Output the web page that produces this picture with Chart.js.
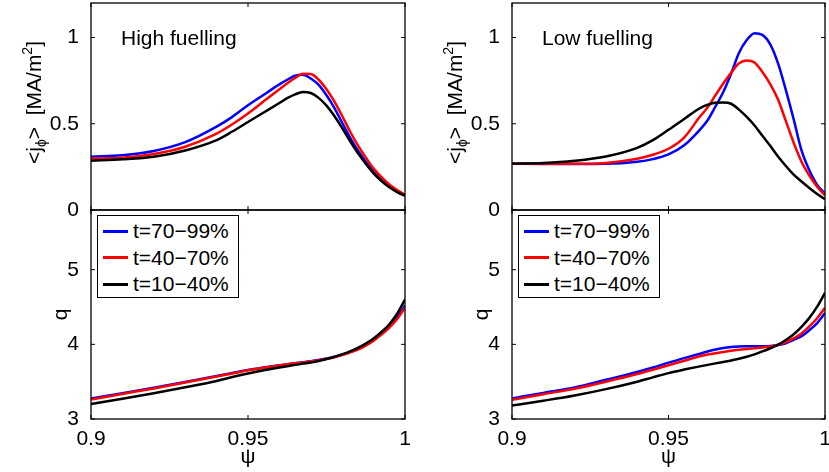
<!DOCTYPE html>
<html>
<head>
<meta charset="utf-8">
<script src="https://cdn.jsdelivr.net/npm/chart.js@4.4.1/dist/chart.umd.min.js"></script>
<style>
  body { margin: 0; background: #fff; }
  #fig { position: relative; width: 829px; height: 472px; overflow: hidden; font-family: 'Liberation Sans', Arial, sans-serif; }
  #fig canvas { position: absolute; left: 0; top: 0; }
  .panel-label { position: absolute; font-size: 21px; line-height: 25px; color: #000; white-space: nowrap; }
  .legend { position: absolute; width: 142px; height: 83px; border: 1px solid #000; background: #fff; padding-top: 2px; box-sizing: border-box; }
  .legend .row { height: 26.5px; display: flex; align-items: center; font-size: 21px; white-space: nowrap; }
  .legend .swatch { width: 25px; height: 3px; margin: 0 5px 0 5px; }
</style>
</head>
<body>
<div id="fig">
  <canvas id="jHigh" width="829" height="472"></canvas>
  <canvas id="qHigh" width="829" height="472"></canvas>
  <canvas id="jLow" width="829" height="472"></canvas>
  <canvas id="qLow" width="829" height="472"></canvas>
  <div class="panel-label" style="left:121px; top:25px;">High fuelling</div>
  <div class="panel-label" style="left:542px; top:25px;">Low fuelling</div>
  <div class="legend" id="legendHigh" style="left:97px; top:215px;"></div>
  <div class="legend" id="legendLow" style="left:518px; top:215px;"></div>
</div>
<script>
// normalised flux coordinate
const psi = [0.9, 0.91, 0.92, 0.93, 0.94, 0.945, 0.95, 0.955, 0.96, 0.9625, 0.965, 0.9675,
  0.97, 0.9725, 0.975, 0.9775, 0.98, 0.9825, 0.985, 0.9875, 0.99, 0.9925, 0.995, 0.9975, 1.0];

// <j_phi> [MA/m^2], high fuelling
const jHigh70 = [0.309, 0.318, 0.342, 0.393, 0.483, 0.54, 0.607, 0.668, 0.728, 0.755, 0.778, 0.784,
  0.762, 0.725, 0.665, 0.592, 0.505, 0.42, 0.345, 0.28, 0.225, 0.178, 0.14, 0.11, 0.088];
const jHigh40 = [0.298, 0.303, 0.325, 0.367, 0.443, 0.497, 0.56, 0.63, 0.70, 0.735, 0.765, 0.79,
  0.788, 0.755, 0.70, 0.63, 0.545, 0.455, 0.375, 0.305, 0.24, 0.19, 0.148, 0.115, 0.088];
const jHigh10 = [0.286, 0.294, 0.309, 0.345, 0.405, 0.455, 0.51, 0.565, 0.62, 0.648, 0.67, 0.684,
  0.678, 0.65, 0.605, 0.545, 0.475, 0.40, 0.33, 0.268, 0.212, 0.168, 0.132, 0.104, 0.082];

// <j_phi> [MA/m^2], low fuelling
const jLow70 = [0.268, 0.267, 0.267, 0.268, 0.28, 0.295, 0.322, 0.375, 0.465, 0.52, 0.60, 0.684,
  0.79, 0.91, 0.985, 1.025, 1.015, 0.96, 0.85, 0.695, 0.525, 0.345, 0.23, 0.145, 0.095];
const jLow40 = [0.268, 0.268, 0.268, 0.273, 0.297, 0.32, 0.355, 0.42, 0.54, 0.595, 0.665, 0.733,
  0.795, 0.85, 0.867, 0.855, 0.80, 0.73, 0.64, 0.515, 0.39, 0.28, 0.20, 0.135, 0.085];
const jLow10 = [0.268, 0.272, 0.285, 0.31, 0.36, 0.405, 0.465, 0.528, 0.59, 0.61, 0.622, 0.623,
  0.616, 0.582, 0.54, 0.49, 0.43, 0.372, 0.31, 0.255, 0.205, 0.165, 0.128, 0.093, 0.062];

// safety factor q, high fuelling
const qHigh70 = [3.275, 3.345, 3.418, 3.497, 3.577, 3.617, 3.657, 3.69, 3.72, 3.735, 3.748, 3.76,
  3.775, 3.79, 3.81, 3.835, 3.865, 3.90, 3.945, 4.0, 4.065, 4.145, 4.24, 4.36, 4.52];
const qHigh40 = [3.262, 3.336, 3.41, 3.49, 3.57, 3.61, 3.652, 3.687, 3.718, 3.733, 3.746, 3.758,
  3.772, 3.787, 3.805, 3.828, 3.856, 3.89, 3.93, 3.983, 4.05, 4.13, 4.225, 4.34, 4.49];
const qHigh10 = [3.2, 3.27, 3.345, 3.425, 3.51, 3.562, 3.61, 3.652, 3.69, 3.708, 3.725, 3.742,
  3.758, 3.778, 3.803, 3.833, 3.866, 3.905, 3.952, 4.01, 4.08, 4.165, 4.27, 4.41, 4.6];

// safety factor q, low fuelling
const qLow70 = [3.275, 3.35, 3.422, 3.525, 3.63, 3.69, 3.755, 3.815, 3.875, 3.905, 3.93, 3.952,
  3.965, 3.972, 3.974, 3.975, 3.975, 3.978, 3.99, 4.015, 4.06, 4.11, 4.19, 4.285, 4.42];
const qLow40 = [3.258, 3.332, 3.405, 3.5, 3.603, 3.66, 3.72, 3.78, 3.84, 3.863, 3.882, 3.898,
  3.915, 3.928, 3.938, 3.948, 3.958, 3.972, 3.992, 4.03, 4.08, 4.145, 4.24, 4.35, 4.49];
const qLow10 = [3.18, 3.245, 3.315, 3.4, 3.5, 3.558, 3.615, 3.662, 3.705, 3.725, 3.745, 3.765,
  3.785, 3.808, 3.835, 3.866, 3.905, 3.948, 3.995, 4.058, 4.135, 4.235, 4.355, 4.505, 4.69];

const seriesLabels = ['t=70\u221299%', 't=40\u221270%', 't=10\u221240%'];
const seriesColors = ['#0000ff', '#ff0000', '#000000'];

const psiTicks = [0.9, 0.95, 1];
const psiTickLabels = ['0.9', '0.95', '1'];
const jTicks = [0, 0.5, 1];
const jTickLabels = ['0', '0.5', '1'];
const qTicks = [3, 4, 5];
const qTickLabels = ['3', '4', '5'];

// <j_phi> [MA/m^2] with sub/superscript pieces
const jTitleParts = [
  { t: '<j' }, { t: '\u03d5', sub: true }, { t: '>  [MA/m' }, { t: '2', sup: true }, { t: ']' }
];

const FONT = "'Liberation Sans', Arial, sans-serif";

// MATLAB-like box with inward ticks
const boxTicks = {
  id: 'boxTicks',
  afterDatasetsDraw(chart, args, opts) {
    const { ctx, chartArea: a, scales: { x, y } } = chart;
    ctx.save();
    ctx.strokeStyle = '#000';
    ctx.lineWidth = 1.3;
    ctx.strokeRect(a.left, a.top, a.right - a.left, a.bottom - a.top);
    ctx.lineWidth = 1;
    ctx.beginPath();
    opts.xTicks.forEach(v => {
      const px = x.getPixelForValue(v);
      ctx.moveTo(px, a.bottom); ctx.lineTo(px, a.bottom - 4);
      ctx.moveTo(px, a.top); ctx.lineTo(px, a.top + 4);
    });
    opts.yTicks.forEach(v => {
      const py = y.getPixelForValue(v);
      ctx.moveTo(a.left, py); ctx.lineTo(a.left + 4, py);
      ctx.moveTo(a.right, py); ctx.lineTo(a.right - 4, py);
    });
    ctx.stroke();
    ctx.restore();
  }
};

// rotated y title with a subscript / superscript
const richTitle = {
  id: 'richTitle',
  afterDraw(chart, args, opts) {
    if (!opts.parts) return;
    const { ctx, chartArea: a } = chart;
    const big = '21px ' + FONT, small = '14px ' + FONT;
    ctx.save();
    let total = 0;
    opts.parts.forEach(p => {
      ctx.font = (p.sub || p.sup) ? small : big;
      p.w = ctx.measureText(p.t).width;
      total += p.w;
    });
    ctx.translate(a.left - 50, (a.top + a.bottom) / 2 - 4);
    ctx.rotate(-Math.PI / 2);
    ctx.fillStyle = '#000';
    ctx.textBaseline = 'alphabetic';
    let pos = -total / 2;
    opts.parts.forEach(p => {
      ctx.font = (p.sub || p.sup) ? small : big;
      ctx.fillText(p.t, pos, p.sub ? 5 : (p.sup ? -9 : 0));
      pos += p.w;
    });
    ctx.restore();
  }
};

function makePanel(id, area, series, yCfg, showX) {
  const datasets = series.map((vals, i) => ({
    label: seriesLabels[i],
    data: psi.map((p, k) => ({ x: p, y: vals[k] })),
    borderColor: seriesColors[i],
    borderWidth: 2.5,
    pointRadius: 0,
    cubicInterpolationMode: 'monotone',
    order: series.length - i
  }));
  const yWidth = 91;
  const xHeight = showX ? 472 - area.bottom : 0;
  return new Chart(document.getElementById(id), {
    type: 'line',
    data: { datasets },
    plugins: [boxTicks, richTitle],
    options: {
      responsive: false,
      animation: false,
      devicePixelRatio: 1,
      layout: {
        padding: {
          left: area.left - yWidth,
          right: 829 - area.right,
          top: area.top,
          bottom: 472 - area.bottom - xHeight
        }
      },
      plugins: {
        legend: { display: false },
        tooltip: { enabled: false },
        boxTicks: { xTicks: psiTicks, yTicks: yCfg.ticks },
        richTitle: { parts: yCfg.titleParts }
      },
      scales: {
        x: {
          type: 'linear',
          min: 0.9,
          max: 1,
          grid: { display: false },
          border: { display: false },
          afterBuildTicks: s => { s.ticks = psiTicks.map(v => ({ value: v })); },
          afterFit: s => { s.height = xHeight; s.paddingLeft = 0; s.paddingRight = 0; },
          ticks: {
            display: showX,
            padding: 0,
            color: '#000',
            font: { family: FONT, size: 21 },
            maxRotation: 0,
            callback: (v, i) => psiTickLabels[i]
          },
          title: {
            display: showX,
            text: '\u03c8',
            color: '#000',
            font: { family: FONT, size: 21 },
            padding: { top: 0, bottom: 2 }
          }
        },
        y: {
          type: 'linear',
          min: yCfg.min,
          max: yCfg.max,
          grid: { display: false },
          border: { display: false },
          afterBuildTicks: s => { s.ticks = yCfg.ticks.map(v => ({ value: v })); },
          afterFit: s => { s.width = yWidth; s.paddingTop = 0; s.paddingBottom = 0; },
          ticks: {
            padding: 4,
            color: '#000',
            font: { family: FONT, size: 21 },
            callback: (v, i) => yCfg.labels[i]
          },
          title: {
            display: !yCfg.titleParts,
            text: yCfg.title,
            color: '#000',
            font: { family: FONT, size: 21 },
            padding: { top: yCfg.titlePad, bottom: 0 }
          }
        }
      }
    }
  });
}

const jAxis = { min: 0, max: 1.2, ticks: jTicks, labels: jTickLabels, titleParts: jTitleParts };
const qAxis = { min: 3, max: 5.8, ticks: qTicks, labels: qTickLabels, title: 'q', titlePad: 49 };

const leftCol = { left: 91, right: 405 };
const rightCol = { left: 512, right: 825 };

makePanel('jHigh', { ...leftCol, top: 3, bottom: 210 }, [jHigh70, jHigh40, jHigh10], jAxis, false);
makePanel('qHigh', { ...leftCol, top: 210, bottom: 419 }, [qHigh70, qHigh40, qHigh10], qAxis, true);
makePanel('jLow', { ...rightCol, top: 3, bottom: 210 }, [jLow70, jLow40, jLow10], jAxis, false);
makePanel('qLow', { ...rightCol, top: 210, bottom: 419 }, [qLow70, qLow40, qLow10], qAxis, true);

// legend boxes inside the lower panels
['legendHigh', 'legendLow'].forEach(id => {
  const box = document.getElementById(id);
  seriesLabels.forEach((label, i) => {
    const row = document.createElement('div');
    row.className = 'row';
    const sw = document.createElement('span');
    sw.className = 'swatch';
    sw.style.background = seriesColors[i];
    const txt = document.createElement('span');
    txt.textContent = label;
    row.appendChild(sw);
    row.appendChild(txt);
    box.appendChild(row);
  });
});
</script>
</body>
</html>
